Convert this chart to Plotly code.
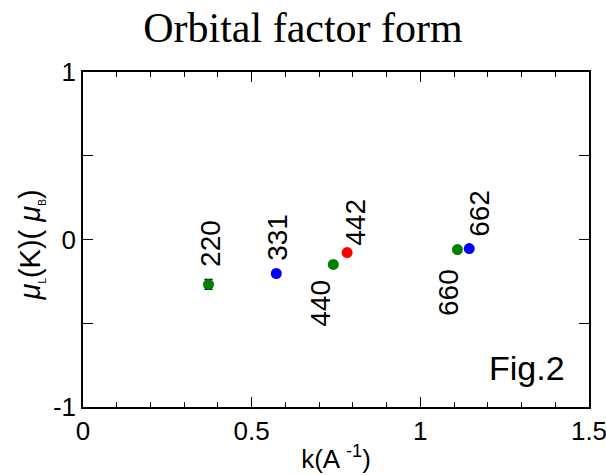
import plotly.graph_objects as go

labels = ["220", "331", "440", "442", "660", "662"]
k_vals = [0.372, 0.573, 0.742, 0.783, 1.110, 1.145]
mu_vals = [-0.268, -0.203, -0.149, -0.078, -0.060, -0.054]
err_vals = [0.03, 0, 0, 0, 0, 0]
colors = ["green", "blue", "green", "red", "green", "blue"]
label_shift_x = [2, 1, -13, 8, -9, 10]
label_shift_y = [41, 36, -39, 30, -43, 35]
x_ticks = [0, 0.5, 1, 1.5]
x_ticktext = ["0", "0.5", "1", "1.5"]
y_ticks = [-1, 0, 1]
y_ticktext = ["-1", "0", "1"]

FONT = "Liberation Sans, Arial, sans-serif"

fig = go.Figure()
fig.add_trace(go.Scatter(
    x=k_vals, y=mu_vals, mode="markers",
    marker=dict(color=colors, size=11, line=dict(width=0)),
    error_y=dict(type="data", array=err_vals, visible=True, color="black", thickness=1.2, width=4),
    showlegend=False, hoverinfo="skip"))

for lab, xv, yv, sx, sy in zip(labels, k_vals, mu_vals, label_shift_x, label_shift_y):
    fig.add_annotation(x=xv, y=yv, text=lab, showarrow=False, textangle=-90,
                       xshift=sx, yshift=sy, font=dict(family=FONT, size=28, color="black"),
                       xanchor="center", yanchor="middle")

fig.add_annotation(x=1.0, y=0.0, xref="paper", yref="paper", text="Fig.2", showarrow=False,
                   xanchor="right", yanchor="bottom", xshift=-22, yshift=18,
                   font=dict(family=FONT, size=34, color="black"))

# y-axis title as a rotated annotation so it can sit closer to the edge
fig.add_annotation(x=0, y=0.5, xref="paper", yref="paper",
                   text="<i>μ</i><sub><span style='font-size:10px'>L</span></sub>(K)( <i>μ</i><sub><span style='font-size:10px'>B</span></sub>)",
                   showarrow=False, textangle=-90, xanchor="center", yanchor="middle",
                   xshift=-53, yshift=-6, font=dict(family=FONT, size=29, color="black"))

axis_common = dict(showgrid=False, zeroline=False, showline=True, linecolor="black", linewidth=1.5,
                   ticks="inside", tickcolor="black", tickwidth=1.2, mirror="allticks",
                   automargin=False, ticklabeloverflow="allow",
                   tickfont=dict(family=FONT, size=26, color="black"))

fig.update_xaxes(range=[0, 1.5], ticklen=10,
                 minor=dict(dtick=0.1, tick0=0, ticklen=5, ticks="inside", tickcolor="black", tickwidth=1.2),
                 tickmode="array", tickvals=x_ticks, ticktext=x_ticktext,
                 title=dict(text="k(A <sup>-1</sup>)", font=dict(family=FONT, size=26, color="black"), standoff=5),
                 **axis_common)
fig.update_yaxes(range=[-1, 1], tickmode="array", tickvals=y_ticks, ticktext=y_ticktext, ticklen=10,
                 minor=dict(dtick=0.5, tick0=0, ticklen=10, ticks="inside", tickcolor="black", tickwidth=1.2),
                 **axis_common)

fig.update_layout(
    width=606, height=475,
    margin=dict(l=83, r=17, t=72, b=68),
    paper_bgcolor="white", plot_bgcolor="white",
    title=dict(text="Orbital factor form", x=0.5, xanchor="center", y=0.974, yanchor="top",
               font=dict(family="Liberation Serif, Times New Roman, serif", size=42, color="black")),
)

fig.write_html("out.html", config={"displayModeBar": False},
               post_script="document.body.style.margin='0';")
